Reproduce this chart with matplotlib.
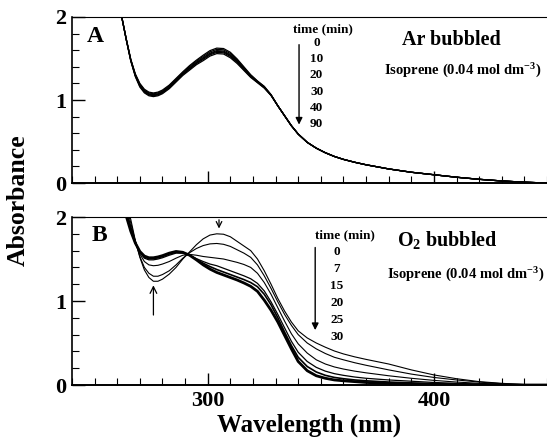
import numpy as np
import matplotlib
matplotlib.use('Agg')
import matplotlib.pyplot as plt
from matplotlib.ticker import MultipleLocator

plt.rcParams['font.family'] = 'Liberation Serif'
plt.rcParams['font.weight'] = 'bold'
plt.rcParams['axes.labelweight'] = 'bold'
plt.rcParams['mathtext.fontset'] = 'custom'
plt.rcParams['mathtext.rm'] = 'Liberation Serif:bold'
plt.rcParams['mathtext.it'] = 'Liberation Serif:bold'
plt.rcParams['mathtext.bf'] = 'Liberation Serif:bold'

# wavelength grid (nm)
wl = [258, 260, 262, 264, 266, 268, 270, 272, 274, 276, 278, 280, 283, 286, 289, 292,
      295, 298, 301, 304, 307, 310, 313, 316, 319, 322, 325, 328, 331, 334, 337, 340,
      344, 348, 352, 356, 360, 365, 370, 380, 390, 400, 410, 420, 430, 440, 450]

# panel A: Ar bubbled, time in min
times_a = ['0', '10', '20', '30', '40', '90']
a_0 = [2.62, 2.30, 2.00, 1.735, 1.49, 1.315, 1.20, 1.13, 1.095, 1.085, 1.095, 1.12, 1.18, 1.26,
       1.34, 1.415, 1.48, 1.54, 1.595, 1.625, 1.62, 1.575, 1.495, 1.40, 1.305, 1.23, 1.165, 1.065,
       0.93, 0.81, 0.69, 0.59, 0.49, 0.42, 0.365, 0.32, 0.285, 0.25, 0.22, 0.17, 0.13, 0.10, 0.07,
       0.045, 0.025, 0.01, 0.0]
a_10 = [2.62, 2.30, 2.00, 1.733, 1.485, 1.308, 1.19, 1.12, 1.085, 1.075, 1.085, 1.11, 1.17, 1.25,
        1.33, 1.403, 1.468, 1.525, 1.58, 1.61, 1.605, 1.56, 1.483, 1.39, 1.298, 1.225, 1.16, 1.063,
        0.93, 0.81, 0.69, 0.59, 0.49, 0.42, 0.365, 0.32, 0.285, 0.25, 0.22, 0.17, 0.13, 0.10, 0.07,
        0.045, 0.025, 0.01, 0.0]
a_20 = [2.62, 2.30, 2.00, 1.73, 1.48, 1.30, 1.18, 1.11, 1.075, 1.065, 1.075, 1.10, 1.16, 1.24,
        1.32, 1.39, 1.455, 1.51, 1.565, 1.595, 1.59, 1.545, 1.47, 1.38, 1.29, 1.22, 1.155, 1.06,
        0.93, 0.81, 0.69, 0.59, 0.49, 0.42, 0.365, 0.32, 0.285, 0.25, 0.22, 0.17, 0.13, 0.10, 0.07,
        0.045, 0.025, 0.01, 0.0]
a_30 = [2.62, 2.30, 2.00, 1.728, 1.477, 1.295, 1.173, 1.103, 1.068, 1.058, 1.068, 1.093, 1.153,
        1.233, 1.313, 1.381, 1.446, 1.50, 1.555, 1.585, 1.58, 1.535, 1.461, 1.373, 1.285, 1.217,
        1.152, 1.058, 0.93, 0.81, 0.69, 0.59, 0.49, 0.42, 0.365, 0.32, 0.285, 0.25, 0.22, 0.17,
        0.13, 0.10, 0.07, 0.045, 0.025, 0.01, 0.0]
a_40 = [2.62, 2.30, 2.00, 1.727, 1.473, 1.29, 1.166, 1.096, 1.061, 1.051, 1.061, 1.086, 1.146,
        1.226, 1.306, 1.373, 1.438, 1.489, 1.544, 1.574, 1.569, 1.524, 1.453, 1.366, 1.28, 1.213,
        1.148, 1.057, 0.93, 0.81, 0.69, 0.59, 0.49, 0.42, 0.365, 0.32, 0.285, 0.25, 0.22, 0.17,
        0.13, 0.10, 0.07, 0.045, 0.025, 0.01, 0.0]
a_90 = [2.62, 2.30, 2.00, 1.724, 1.468, 1.282, 1.156, 1.086, 1.051, 1.041, 1.051, 1.076, 1.136,
        1.216, 1.296, 1.36, 1.425, 1.474, 1.529, 1.559, 1.554, 1.509, 1.44, 1.356, 1.272, 1.208,
        1.143, 1.054, 0.93, 0.81, 0.69, 0.59, 0.49, 0.42, 0.365, 0.32, 0.285, 0.25, 0.22, 0.17,
        0.13, 0.10, 0.07, 0.045, 0.025, 0.01, 0.0]
series_a = [a_0, a_10, a_20, a_30, a_40, a_90]

# panel B: O2 bubbled, time in min
times_b = ['0', '7', '15', '20', '25', '30']
b_0 = [2.90, 2.65, 2.40, 2.17, 1.97, 1.72, 1.52, 1.37, 1.28, 1.235, 1.235, 1.26, 1.32, 1.40,
       1.50, 1.585, 1.67, 1.74, 1.785, 1.80, 1.795, 1.765, 1.71, 1.655, 1.60, 1.50, 1.36, 1.20,
       1.03, 0.88, 0.75, 0.645, 0.56, 0.50, 0.45, 0.405, 0.37, 0.335, 0.305, 0.25, 0.18, 0.12,
       0.075, 0.04, 0.02, 0.005, 0.0]
b_7 = [2.85, 2.60, 2.36, 2.13, 1.93, 1.71, 1.53, 1.40, 1.33, 1.295, 1.295, 1.315, 1.36, 1.43,
       1.51, 1.575, 1.625, 1.66, 1.68, 1.685, 1.675, 1.65, 1.61, 1.57, 1.52, 1.43, 1.30, 1.15,
       0.99, 0.84, 0.71, 0.60, 0.50, 0.43, 0.375, 0.33, 0.30, 0.265, 0.235, 0.18, 0.13, 0.09,
       0.06, 0.035, 0.015, 0.005, 0.0]
b_15 = [2.82, 2.57, 2.32, 2.09, 1.89, 1.71, 1.56, 1.47, 1.43, 1.42, 1.425, 1.44, 1.47, 1.51,
        1.545, 1.555, 1.545, 1.53, 1.52, 1.51, 1.50, 1.48, 1.46, 1.435, 1.40, 1.33, 1.22, 1.08,
        0.92, 0.76, 0.61, 0.49, 0.38, 0.30, 0.25, 0.215, 0.19, 0.165, 0.145, 0.11, 0.08, 0.055,
        0.035, 0.02, 0.01, 0.0, 0.0]
b_20 = [2.80, 2.55, 2.29, 2.06, 1.86, 1.70, 1.58, 1.51, 1.49, 1.49, 1.50, 1.515, 1.545, 1.57,
        1.57, 1.545, 1.505, 1.47, 1.44, 1.42, 1.39, 1.36, 1.33, 1.30, 1.265, 1.21, 1.12, 0.99,
        0.84, 0.68, 0.52, 0.39, 0.28, 0.21, 0.165, 0.135, 0.115, 0.095, 0.08, 0.06, 0.045, 0.03,
        0.02, 0.01, 0.005, 0.0, 0.0]
b_25 = [2.78, 2.52, 2.26, 2.03, 1.84, 1.69, 1.585, 1.525, 1.505, 1.505, 1.515, 1.53, 1.56, 1.58,
        1.575, 1.545, 1.495, 1.45, 1.41, 1.375, 1.345, 1.315, 1.285, 1.255, 1.22, 1.17, 1.08, 0.955,
        0.80, 0.63, 0.47, 0.33, 0.22, 0.155, 0.115, 0.09, 0.075, 0.06, 0.05, 0.035, 0.025, 0.015,
        0.01, 0.005, 0.0, 0.0, 0.0]
b_30 = [2.76, 2.50, 2.24, 2.01, 1.83, 1.69, 1.59, 1.535, 1.515, 1.515, 1.525, 1.54, 1.57, 1.59,
        1.58, 1.545, 1.49, 1.43, 1.38, 1.34, 1.31, 1.28, 1.25, 1.215, 1.175, 1.115, 1.01, 0.89,
        0.75, 0.59, 0.43, 0.28, 0.17, 0.11, 0.08, 0.06, 0.05, 0.04, 0.03, 0.02, 0.012, 0.008,
        0.004, 0.0, 0.0, 0.0, 0.0]
series_b = [b_0, b_7, b_15, b_20, b_25, b_30]
widths_b = [0.8, 0.8, 0.8, 0.9, 1.2, 2.0]

fig = plt.figure(figsize=(5.47, 4.40), dpi=100)
ax1 = fig.add_axes([0.1316, 0.584, 0.8684, 0.3774])
ax2 = fig.add_axes([0.1316, 0.125, 0.8684, 0.3818])

for s in series_a:
    ax1.plot(wl, s, color='black', lw=0.9)
for s, w in zip(series_b, widths_b):
    ax2.plot(wl, s, color='black', lw=w)

for ax in (ax1, ax2):
    ax.set_xlim(240, 450)
    ax.set_ylim(0, 2)
    ax.xaxis.set_major_locator(MultipleLocator(100))
    ax.xaxis.set_minor_locator(MultipleLocator(10))
    ax.yaxis.set_major_locator(MultipleLocator(1))
    ax.yaxis.set_minor_locator(MultipleLocator(0.2))
    ax.tick_params(which='major', direction='in', length=9, width=1.0, labelsize=16, pad=4)
    ax.tick_params(which='minor', direction='in', length=5, width=0.8)
    ax.spines['right'].set_visible(False)
    ax.spines['left'].set_linewidth(1.2)
    ax.spines['bottom'].set_linewidth(1.4)
    ax.spines['top'].set_linewidth(0.8)
    ax.set_yticks([0, 1, 2])
    ax.set_yticklabels(['0', '1', '2'])

ax1.tick_params(labelbottom=False)
ax2.set_xticks([300, 400])
ax2.set_xticklabels(['300', '400'])
ax2.set_xlabel('Wavelength (nm)', fontsize=18, fontweight='bold', labelpad=2)
fig.text(0.033, 0.545, 'Absorbance', rotation=90, fontsize=18.5, fontweight='bold',
         ha='center', va='center')

# panel A annotations
ax1.text(0.032, 0.945, 'A', transform=ax1.transAxes, fontsize=17, ha='left', va='top')
ax1.text(0.465, 0.928, 'time (min)', transform=ax1.transAxes, fontsize=9.5, ha='left', va='center')
for i, t in enumerate(times_a):
    ax1.text(0.515, 0.843 - i * 0.0976, t, transform=ax1.transAxes, fontsize=9.5,
             ha='center', va='center')
ax1.annotate('', xy=(0.478, 0.335), xytext=(0.478, 0.85), xycoords='axes fraction',
             arrowprops=dict(arrowstyle='-|>', color='black', lw=1.0, mutation_scale=10))
ax1.text(0.798, 0.862, 'Ar bubbled', transform=ax1.transAxes, fontsize=14.5, ha='center', va='center')
ax1.text(0.988, 0.675, 'Isoprene (0.04 mol dm$^{-3}$)', transform=ax1.transAxes, fontsize=10.5,
         ha='right', va='center')

# panel B annotations
ax2.text(0.042, 0.952, 'B', transform=ax2.transAxes, fontsize=17, ha='left', va='top')
ax2.text(0.512, 0.893, 'time (min)', transform=ax2.transAxes, fontsize=9.5, ha='left', va='center')
for i, t in enumerate(times_b):
    ax2.text(0.558, 0.79 - i * 0.101, t, transform=ax2.transAxes, fontsize=9.5,
             ha='center', va='center')
ax2.annotate('', xy=(0.512, 0.31), xytext=(0.512, 0.835), xycoords='axes fraction',
             arrowprops=dict(arrowstyle='-|>', color='black', lw=1.0, mutation_scale=10))
ax2.text(0.79, 0.863, 'O$_2$ bubbled', transform=ax2.transAxes, fontsize=14.5, ha='center', va='center')
ax2.text(0.995, 0.655, 'Isoprene (0.04 mol dm$^{-3}$)', transform=ax2.transAxes, fontsize=10.5,
         ha='right', va='center')
# arrows marking spectral changes
ax2.annotate('', xy=(305, 1.83), xytext=(305, 2.0),
             arrowprops=dict(arrowstyle='->', color='black', lw=0.9, mutation_scale=10))
ax2.annotate('', xy=(276, 1.22), xytext=(276, 0.8),
             arrowprops=dict(arrowstyle='->', color='black', lw=0.9, mutation_scale=12))

fig.savefig('out.png', dpi=100)
